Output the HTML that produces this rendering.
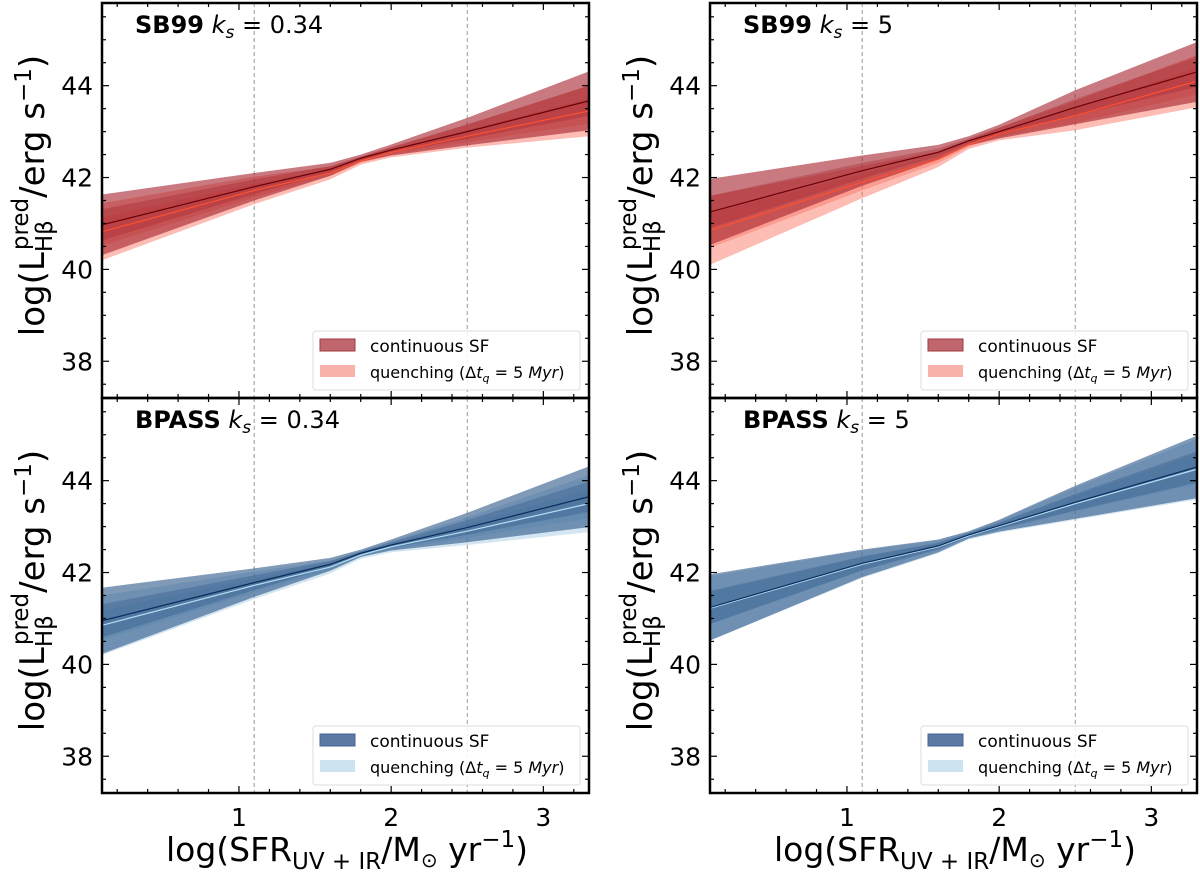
<!DOCTYPE html>
<html><head><meta charset="utf-8"><style>
body{margin:0;background:#fff}
svg{display:block;font-family:"DejaVu Sans","Liberation Sans",sans-serif}
</style></head><body>
<svg id="fig" width="1200" height="875" viewBox="0 0 1200 875" xmlns="http://www.w3.org/2000/svg"></svg>
<script>
// x nodes (log SFR) where band values are read
const xNodes = [0.1, 1.1, 1.6, 1.8, 2.0, 2.5, 3.3];
// Panel: SB99 ks=0.34
const sb034ContMid = [40.97, 41.8, 42.18, 42.42, 42.6, 43.0, 43.67];
const sb034ContOuter = [0.66, 0.3, 0.14, 0.08, 0.12, 0.3, 0.64];
const sb034ContInner = [0.34, 0.16, 0.07, 0.04, 0.06, 0.16, 0.33];
const sb034QuenchMid = [40.82, 41.72, 42.1, 42.36, 42.55, 42.9, 43.45];
const sb034QuenchOuter = [0.62, 0.3, 0.14, 0.08, 0.11, 0.25, 0.55];
const sb034QuenchInner = [0.31, 0.15, 0.07, 0.04, 0.06, 0.13, 0.28];
// Panel: SB99 ks=5
const sb5ContMid = [41.25, 42.15, 42.55, 42.8, 43.0, 43.53, 44.3];
const sb5ContOuter = [0.72, 0.33, 0.16, 0.1, 0.15, 0.37, 0.65];
const sb5ContInner = [0.35, 0.17, 0.08, 0.05, 0.08, 0.18, 0.33];
const sb5QuenchMid = [40.85, 41.9, 42.4, 42.72, 42.95, 43.35, 44.1];
const sb5QuenchOuter = [0.75, 0.35, 0.17, 0.1, 0.14, 0.32, 0.57];
const sb5QuenchInner = [0.38, 0.18, 0.08, 0.05, 0.07, 0.16, 0.29];
// Panel: BPASS ks=0.34
const bp034ContMid = [40.95, 41.78, 42.18, 42.42, 42.6, 42.98, 43.65];
const bp034ContOuter = [0.72, 0.31, 0.14, 0.08, 0.12, 0.32, 0.66];
const bp034ContInner = [0.36, 0.16, 0.07, 0.04, 0.06, 0.16, 0.33];
const bp034QuenchMid = [40.85, 41.72, 42.12, 42.38, 42.56, 42.9, 43.5];
const bp034QuenchOuter = [0.65, 0.3, 0.14, 0.08, 0.12, 0.3, 0.62];
const bp034QuenchInner = [0.32, 0.15, 0.07, 0.04, 0.06, 0.15, 0.31];
// Panel: BPASS ks=5
const bp5ContMid = [41.24, 42.2, 42.58, 42.82, 43.02, 43.53, 44.3];
const bp5ContOuter = [0.72, 0.3, 0.14, 0.08, 0.13, 0.36, 0.68];
const bp5ContInner = [0.36, 0.15, 0.07, 0.04, 0.07, 0.18, 0.34];
const bp5QuenchMid = [41.22, 42.18, 42.56, 42.8, 43.0, 43.5, 44.25];
const bp5QuenchOuter = [0.7, 0.3, 0.14, 0.08, 0.13, 0.35, 0.66];
const bp5QuenchInner = [0.35, 0.15, 0.07, 0.04, 0.07, 0.17, 0.33];

const xTickVals = [1, 2, 3];
const yTickVals = [38, 40, 42, 44];
const xDomain = [0.1, 3.3];
const yDomain = [37.2, 45.8];
const refLines = [1.1, 2.5];

const NS = "http://www.w3.org/2000/svg";
const svg = document.getElementById("fig");
function mk(tag, attrs, parent){const e=document.createElementNS(NS,tag);for(const k in attrs)e.setAttribute(k,attrs[k]);(parent||svg).appendChild(e);return e;}

const panels = [
 {x0:102,y0:3,label:"SB99",ks:"0.34",mid:sb034ContMid,o:sb034ContOuter,i:sb034ContInner,qm:sb034QuenchMid,qo:sb034QuenchOuter,qi:sb034QuenchInner,red:true,name:"sb99-ks034"},
 {x0:710,y0:3,label:"SB99",ks:"5",mid:sb5ContMid,o:sb5ContOuter,i:sb5ContInner,qm:sb5QuenchMid,qo:sb5QuenchOuter,qi:sb5QuenchInner,red:true,name:"sb99-ks5"},
 {x0:102,y0:398,label:"BPASS",ks:"0.34",mid:bp034ContMid,o:bp034ContOuter,i:bp034ContInner,qm:bp034QuenchMid,qo:bp034QuenchOuter,qi:bp034QuenchInner,red:false,name:"bpass-ks034"},
 {x0:710,y0:398,label:"BPASS",ks:"5",mid:bp5ContMid,o:bp5ContOuter,i:bp5ContInner,qm:bp5QuenchMid,qo:bp5QuenchOuter,qi:bp5QuenchInner,red:false,name:"bpass-ks5"}
];
const W=487,H=395;

panels.forEach(p=>{
  const g=mk("g",{});
  
  
  const sx=v=>p.x0+(v-xDomain[0])/(xDomain[1]-xDomain[0])*W;
  const sy=v=>p.y0+(yDomain[1]-v)/(yDomain[1]-yDomain[0])*H;
  const clipId="c"+p.name;
  const cp=mk("clipPath",{id:clipId},g);mk("rect",{x:p.x0,y:p.y0,width:W,height:H},cp);
  const pg=mk("g",{"clip-path":"url(#"+clipId+")"},g);
  refLines.forEach(r=>{
    const l=mk("line",{x1:sx(r),x2:sx(r),y1:p.y0,y2:p.y0+H,stroke:"#999","stroke-width":1,"stroke-dasharray":"4,3"},pg);
    
    
  });
  function band(mid,hw,fill,op,nm){
    let d="";
    xNodes.forEach((x,k)=>{d+=(k?"L":"M")+sx(x)+","+sy(mid[k]+hw[k]);});
    for(let k=xNodes.length-1;k>=0;k--)d+="L"+sx(xNodes[k])+","+sy(mid[k]-hw[k]);
    const e=mk("path",{d:d+"Z",fill:fill,"fill-opacity":op},pg);
    
    
  }
  function line(mid,col,w,nm){
    const e=mk("polyline",{points:xNodes.map((x,k)=>sx(x)+","+sy(mid[k])).join(" "),fill:"none",stroke:col,"stroke-width":w},pg);
    
    
  }
  const cC=p.red?"#a3222c":"#2c5688", qC=p.red?"#fa6a58":"#9fc7e0";
  band(p.qm,p.qo,qC,0.45,"quench-band-outer");
  band(p.qm,p.qi,qC,0.4,"quench-band-inner");
  band(p.mid,p.o,cC,0.6,"continuous-band-outer");
  band(p.mid,p.i,cC,0.35,"continuous-band-inner");
  line(p.qm,p.red?"#ff5030":"#b5ddf2",1.2,"quench-median-line");
  line(p.mid,p.red?"#6a0008":"#0b2c5c",1.2,"continuous-median-line");
  for(let v=0.2;v<=3.3001;v+=0.2){
    const major=Math.abs(v-Math.round(v))<1e-6;const len=major?7:4;const x=sx(v);
    mk("line",{x1:x,x2:x,y1:p.y0+H,y2:p.y0+H-len,stroke:"#000","stroke-width":1.2},g);
    mk("line",{x1:x,x2:x,y1:p.y0,y2:p.y0+len,stroke:"#000","stroke-width":1.2},g);
  }
  for(let v=37.5;v<=45.8;v+=0.5){
    const major=Math.abs(v/2-Math.round(v/2))<1e-6;const len=major?7:4;const y=sy(v);
    mk("line",{x1:p.x0,x2:p.x0+len,y1:y,y2:y,stroke:"#000","stroke-width":1.2},g);
    mk("line",{x1:p.x0+W,x2:p.x0+W-len,y1:y,y2:y,stroke:"#000","stroke-width":1.2},g);
  }
  yTickVals.forEach(v=>{
    const t=mk("text",{x:p.x0-9,y:sy(v)+9,"text-anchor":"end","font-size":25},g);t.textContent=v;
    
    
  });
  if(p.y0>100){
    xTickVals.forEach(v=>{
      const t=mk("text",{x:sx(v),y:p.y0+H+33,"text-anchor":"middle","font-size":25},g);t.textContent=v;
      
      
    });
  }
  const fr=mk("rect",{x:p.x0,y:p.y0,width:W,height:H,fill:"none",stroke:"#000","stroke-width":2.5},g);
  
  
  const tt=mk("text",{x:p.x0+33,y:p.y0+30,"font-size":24},g);
  
  
  tt.innerHTML='<tspan font-weight="bold">'+p.label+'</tspan> <tspan font-style="italic">k</tspan><tspan font-style="italic" font-size="17" dy="5">s</tspan><tspan dy="-5"> = '+p.ks+'</tspan>';
  const yl=mk("text",{transform:"translate("+(p.x0-58)+","+(p.y0+H/2-5)+") rotate(-90)","text-anchor":"middle","font-size":34},g);
  
  
  yl.innerHTML='log(L<tspan font-size="23" dy="8">Hβ</tspan><tspan font-size="23" dx="-30" dy="-24">pred</tspan><tspan dy="16">/erg s</tspan><tspan font-size="23" dy="-13">−1</tspan><tspan dy="13">)</tspan>';
  const lx=p.x0+W-276, ly=p.y0+H-67;
  const lg=mk("g",{},g);
  
  
  mk("rect",{x:lx,y:ly,width:267,height:59,rx:3,fill:"#fff","fill-opacity":0.85,stroke:"#ddd"},lg);
  const e1=mk("rect",{x:lx+7,y:ly+8,width:35,height:12,fill:p.red?"#c0676d":"#5b79a3",stroke:p.red?"#a33a40":"#45648f"},lg);
  
  
  const e2=mk("rect",{x:lx+7,y:ly+34,width:35,height:12,fill:p.red?"#f8b2aa":"#cde3ef"},lg);
  
  
  const t1=mk("text",{x:lx+57,y:ly+21,"font-size":17},lg);t1.textContent="continuous SF";
  
  
  const t2=mk("text",{x:lx+57,y:ly+47,"font-size":16},lg);
  
  
  t2.innerHTML='quenching (Δ<tspan font-style="italic">t</tspan><tspan font-style="italic" font-size="11" dy="4">q</tspan><tspan dy="-4"> = 5 </tspan><tspan font-style="italic">Myr</tspan>)';
});
[347,955].forEach(cx=>{
  const t=mk("text",{x:cx,y:861,"text-anchor":"middle","font-size":33});
  
  
  t.innerHTML='log(SFR<tspan font-size="23" dy="8">UV + IR</tspan><tspan dy="-8">/M</tspan><tspan font-size="20" dy="6">⊙</tspan><tspan dy="-6"> yr</tspan><tspan font-size="23" dy="-14">−1</tspan><tspan dy="14">)</tspan>';
});
</script>
</body></html>
